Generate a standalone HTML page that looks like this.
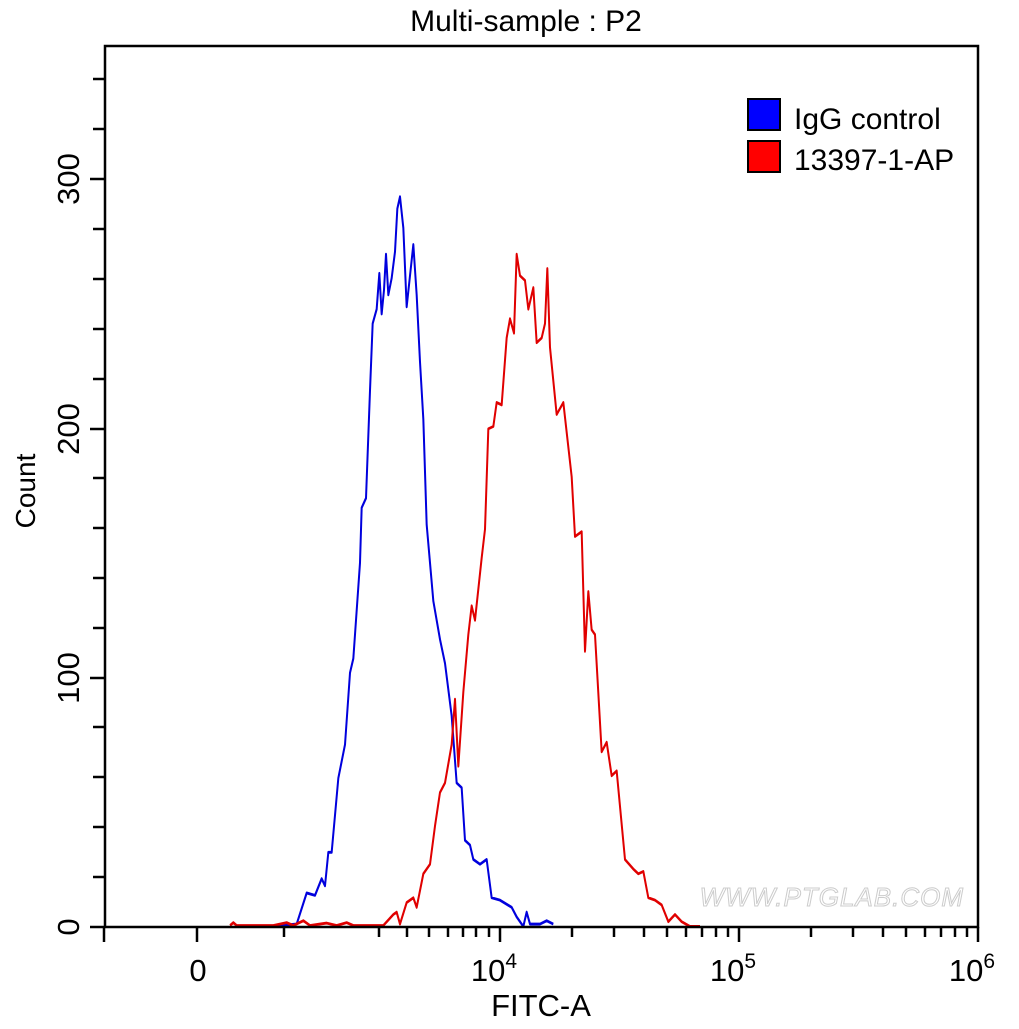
<!DOCTYPE html>
<html><head><style>body{margin:0;background:#fff}</style></head><body>
<svg width="1019" height="1024" xmlns="http://www.w3.org/2000/svg" font-family="Liberation Sans, Arial, sans-serif">
<rect width="1019" height="1024" fill="#fff"/>
<text x="526" y="31" font-size="30" text-anchor="middle">Multi-sample : P2</text>
<text x="964" y="906" font-size="26" font-style="italic" fill="#fff" stroke="#ccc" stroke-width="1" text-anchor="end" letter-spacing="1">WWW.PTGLAB.COM</text>
<g transform="translate(260,180) scale(0.33333,0.4785)" fill="none" stroke-linejoin="round">
<polyline stroke="#0000dd" stroke-width="6" points="30,1560 110,1555 140,1490 165,1495 185,1460 195,1475 205,1405 215,1405 235,1250 255,1180 270,1030 280,1000 300,800 305,685 318,665 330,440 338,300 350,270 358,195 365,280 372,230 378,155 385,240 395,205 405,150 412,60 420,35 430,100 440,265 450,200 460,135 470,240 480,380 490,500 500,720 520,880 540,960 555,1010 575,1120 590,1260 605,1270 615,1380 630,1390 640,1420 660,1430 680,1420 695,1500 720,1505 755,1520 770,1540 790,1560 800,1530 810,1555 840,1555 860,1548 880,1555"/>
<polyline stroke="#e00000" stroke-width="6" points="-90,1558 -80,1552 -70,1558 40,1558 80,1552 100,1558 130,1548 150,1558 200,1553 230,1558 260,1552 280,1558 370,1558 400,1535 410,1530 420,1555 440,1510 460,1500 470,1520 490,1450 510,1430 525,1350 540,1280 555,1260 575,1180 585,1085 595,1225 610,1070 625,950 635,890 645,920 665,790 675,730 685,520 700,515 710,465 725,470 740,330 750,290 762,320 770,155 780,200 795,210 805,270 820,225 830,340 845,330 855,300 862,185 870,350 890,490 910,465 935,620 945,745 965,735 975,985 985,860 995,940 1005,950 1025,1195 1040,1175 1055,1245 1070,1235 1095,1420 1120,1440 1135,1450 1150,1445 1165,1500 1185,1505 1205,1515 1225,1550 1245,1535 1265,1550 1290,1560 1320,1560"/>
</g>
<rect x="105" y="46" width="873" height="881" fill="none" stroke="#000" stroke-width="2.5"/>
<g stroke="#000" stroke-width="2.5">
<line x1="90" y1="927" x2="105" y2="927"/><line x1="93" y1="877" x2="105" y2="877"/><line x1="93" y1="827" x2="105" y2="827"/><line x1="93" y1="777" x2="105" y2="777"/><line x1="93" y1="727" x2="105" y2="727"/>
<line x1="90" y1="678" x2="105" y2="678"/><line x1="93" y1="628" x2="105" y2="628"/><line x1="93" y1="578" x2="105" y2="578"/><line x1="93" y1="528" x2="105" y2="528"/><line x1="93" y1="478" x2="105" y2="478"/>
<line x1="90" y1="429" x2="105" y2="429"/><line x1="93" y1="379" x2="105" y2="379"/><line x1="93" y1="329" x2="105" y2="329"/><line x1="93" y1="279" x2="105" y2="279"/><line x1="93" y1="229" x2="105" y2="229"/>
<line x1="90" y1="179" x2="105" y2="179"/><line x1="93" y1="129" x2="105" y2="129"/><line x1="93" y1="79" x2="105" y2="79"/>
<line x1="104" y1="927" x2="104" y2="942"/><line x1="197" y1="927" x2="197" y2="942"/><line x1="284" y1="927" x2="284" y2="937"/><line x1="379" y1="927" x2="379" y2="937"/><line x1="407" y1="927" x2="407" y2="937"/><line x1="429" y1="927" x2="429" y2="937"/><line x1="448" y1="927" x2="448" y2="937"/><line x1="463" y1="927" x2="463" y2="937"/><line x1="476" y1="927" x2="476" y2="937"/><line x1="489" y1="927" x2="489" y2="937"/>
<line x1="500" y1="927" x2="500" y2="942"/>
<line x1="572" y1="927" x2="572" y2="937"/><line x1="614" y1="927" x2="614" y2="937"/><line x1="644" y1="927" x2="644" y2="937"/><line x1="667" y1="927" x2="667" y2="937"/><line x1="686" y1="927" x2="686" y2="937"/><line x1="702" y1="927" x2="702" y2="937"/><line x1="716" y1="927" x2="716" y2="937"/><line x1="728" y1="927" x2="728" y2="937"/>
<line x1="739" y1="927" x2="739" y2="942"/>
<line x1="811" y1="927" x2="811" y2="937"/><line x1="853" y1="927" x2="853" y2="937"/><line x1="883" y1="927" x2="883" y2="937"/><line x1="906" y1="927" x2="906" y2="937"/><line x1="925" y1="927" x2="925" y2="937"/><line x1="941" y1="927" x2="941" y2="937"/><line x1="955" y1="927" x2="955" y2="937"/><line x1="967" y1="927" x2="967" y2="937"/>
<line x1="978" y1="927" x2="978" y2="942"/>
</g>
<g font-size="31" text-anchor="middle">
<text transform="translate(79,927) rotate(-90)">0</text>
<text transform="translate(79,678) rotate(-90)">100</text>
<text transform="translate(79,429) rotate(-90)">200</text>
<text transform="translate(79,179) rotate(-90)">300</text>
<text transform="translate(35,491) rotate(-90)" font-size="28">Count</text>
<text x="198" y="981">0</text>
<text x="494" y="981">10<tspan font-size="21" dy="-13">4</tspan></text>
<text x="733" y="981">10<tspan font-size="21" dy="-13">5</tspan></text>
<text x="972" y="981">10<tspan font-size="21" dy="-13">6</tspan></text>
<text x="541" y="1016">FITC-A</text>
</g>
<rect x="748" y="99" width="32" height="31" fill="#0000ff" stroke="#000" stroke-width="2"/>
<rect x="748" y="141" width="32" height="31" fill="#ff0000" stroke="#000" stroke-width="2"/>
<text x="794" y="129" font-size="30">IgG control</text>
<text x="794" y="170" font-size="30">13397-1-AP</text>
</svg>
</body></html>
